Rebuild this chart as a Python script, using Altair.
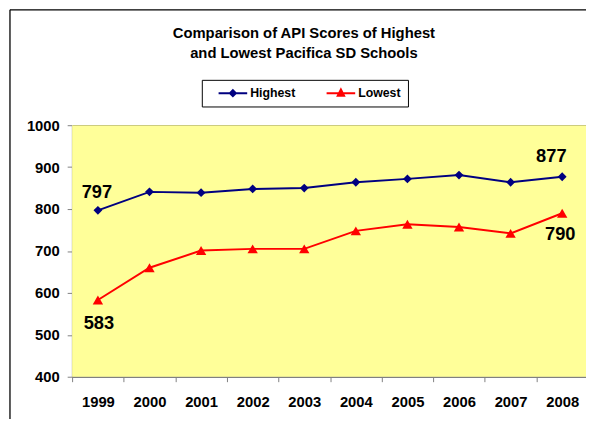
import altair as alt
import pandas as pd

years = ["1999", "2000", "2001", "2002", "2003", "2004", "2005", "2006", "2007", "2008"]
highest = [797, 841, 839, 848, 850, 864, 872, 881, 864, 877]
lowest = [583, 660, 701, 705, 705, 748, 764, 757, 742, 790]
series_names = ["Highest", "Lowest"]
series_colors = ["#000080", "#FF0000"]
y_ticks = [400, 500, 600, 700, 800, 900, 1000]
title_lines = ["Comparison of API Scores of Highest", "and Lowest Pacifica SD Schools"]

df = pd.DataFrame({
    "year": years * 2,
    "value": highest + lowest,
    "series": [series_names[0]] * len(years) + [series_names[1]] * len(years),
})

FONT = "Liberation Sans, Arial, sans-serif"

x_enc = alt.X(
    "year:O",
    bandPosition=0.5,
    scale=alt.Scale(type="band", paddingInner=0, paddingOuter=0, range=[0, 523]),
    axis=alt.Axis(
        title=None, labelAngle=0, tickBand="extent", grid=False,
        domainColor="#808080", domainWidth=1.5, tickColor="#808080", tickSize=5,
        labelFont=FONT, labelFontSize=15, labelFontWeight="bold", labelColor="black",
        labelPadding=13,
    ),
)
y_enc = alt.Y(
    "value:Q",
    scale=alt.Scale(domain=[400, 1000], nice=False, zero=False),
    axis=alt.Axis(
        title=None, values=y_ticks, format="d", grid=True, gridColor="black", gridWidth=1,
        domainColor="#808080", domainWidth=1.5, tickColor="#808080", tickSize=5,
        labelFont=FONT, labelFontSize=15, labelFontWeight="bold", labelColor="black",
        labelPadding=8,
    ),
)
color_enc = alt.Color("series:N", scale=alt.Scale(domain=series_names, range=series_colors), legend=None)

base = alt.Chart(df)

lines = base.mark_line(strokeWidth=2).encode(x=x_enc, y=y_enc, color=color_enc)

diamonds = base.transform_filter(alt.datum.series == series_names[0]).mark_point(
    shape="diamond", filled=True, size=80, opacity=1
).encode(x=x_enc, y=y_enc, color=color_enc)

triangles = base.transform_filter(alt.datum.series == series_names[1]).mark_point(
    shape="triangle-up", filled=True, size=110, opacity=1
).encode(x=x_enc, y=y_enc, color=color_enc)

# legend symbols: line segment with marker (custom paths)
path_h = "M-0.526,0L1,0M0.237,-0.16L0.397,0L0.237,0.16L0.077,0Z"
path_l = "M-0.526,0L1,0M0.237,-0.2L0.407,0.14L0.067,0.14Z"

legend_layer = base.transform_filter("false").mark_point(filled=True, opacity=1).encode(
    fill=alt.Fill(
        "series:N",
        scale=alt.Scale(domain=series_names, range=series_colors),
        legend=alt.Legend(
            title=None, orient="none", legendX=131.5, legendY=-46, direction="horizontal",
            padding=7, strokeColor="black", fillColor="white",
            symbolSize=1444, symbolStrokeWidth=2, clipHeight=13,
            labelFont=FONT, labelFontSize=12.5, labelFontWeight="bold", labelColor="black",
            labelOffset=2, columnPadding=21.5,
        ),
    ),
    stroke=alt.Stroke("series:N", scale=alt.Scale(domain=series_names, range=series_colors)),
    shape=alt.Shape("series:N", scale=alt.Scale(domain=series_names, range=[path_h, path_l])),
)


def value_label(series, year, dx, dy):
    return base.transform_filter(
        (alt.datum.series == series) & (alt.datum.year == year)
    ).mark_text(
        dx=dx, dy=dy, align="center", baseline="alphabetic",
        font=FONT, fontSize=18.5, fontWeight="bold", color="black",
    ).encode(x=x_enc, y=y_enc, text="value:Q")


labels = [
    value_label(series_names[0], years[0], -1, -12.5),
    value_label(series_names[0], years[-1], -11, -14.5),
    value_label(series_names[1], years[0], 1, 29),
    value_label(series_names[1], years[-1], -2, 27),
]

deco_data = alt.Data(values=[{"k": 1}])
plot_bg = alt.Chart(deco_data).mark_rect(color="#FFFF99").encode(
    x=alt.value(0), x2=alt.value(530), y=alt.value(0), y2=alt.value(255)
)
frame_left = alt.Chart(deco_data).mark_rule(color="black", strokeWidth=1.3).encode(
    x=alt.value(-63), y=alt.value(-117), y2=alt.value(400)
)
frame_top = alt.Chart(deco_data).mark_rule(color="black", strokeWidth=1.3).encode(
    x=alt.value(-63), x2=alt.value(600), y=alt.value(-117)
)

chart = alt.layer(
    plot_bg, frame_left, frame_top, lines, diamonds, triangles, legend_layer, *labels
).resolve_scale(
    color="independent", fill="independent", stroke="independent", shape="independent"
).properties(
    width=521,
    height=255,
    autosize=alt.AutoSizeParams(type="none"),
    padding={"left": 65, "top": 116, "right": 0, "bottom": 40},
    background="white",
    title=alt.TitleParams(
        text=title_lines, font=FONT, fontSize=15, fontWeight="bold", color="black",
        anchor="middle", frame="group", dx=-25.5, offset=-53, lineHeight=21,
    ),
).configure_view(stroke="transparent")

chart.save("out.html", embed_options={"renderer": "svg", "actions": False})
